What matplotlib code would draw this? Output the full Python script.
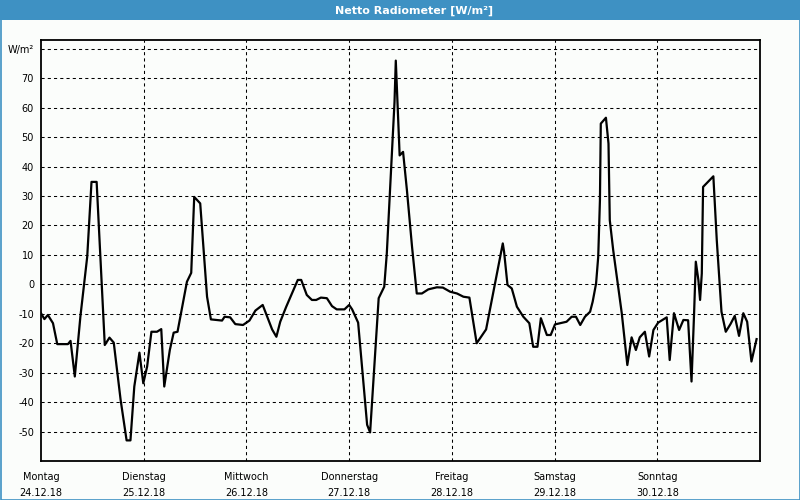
import matplotlib.pyplot as plt
from matplotlib.patches import Rectangle

# hours since Montag 24.12.18 00:00, values in W/m²
hours = [0.0, 0.8, 1.6, 2.8, 3.8, 6.3, 6.9, 7.9, 9.2, 10.8, 11.8, 13.0, 14.9, 16.0, 17.0,
         18.6, 20.0, 20.9, 21.8, 23.0, 23.9, 24.8, 25.8, 27.1, 28.1, 28.8, 30.1, 31.0, 31.9,
         34.1, 35.1, 35.8, 37.2, 38.8, 39.7, 42.3, 42.9, 44.2, 45.4, 47.2, 48.7, 50.1, 51.8,
         54.0, 55.0, 55.9, 57.3, 59.0, 60.0, 60.8, 62.1, 63.3, 64.3, 65.4, 66.8, 68.0, 69.1,
         70.9, 72.0, 72.7, 74.1, 76.2, 76.9, 78.9, 80.2, 80.8, 82.6, 82.9, 83.8, 84.6, 85.5,
         86.7, 87.8, 89.0, 90.5, 92.5, 93.9, 95.6, 97.2, 98.7, 100.1, 101.8, 104.0, 107.9,
         108.2, 109.0, 110.0, 111.2, 112.7, 114.1, 115.0, 116.0, 116.8, 118.2, 119.1, 120.1,
         122.8, 124.0, 125.0, 126.0, 127.1, 128.3, 128.9, 129.7, 130.2, 130.6, 130.8, 132.0,
         132.6, 132.9, 133.7, 135.7, 137.0, 138.0, 139.0, 139.9, 141.1, 142.1, 143.1, 144.2,
         146.2, 146.9, 147.9, 149.1, 150.1, 151.2, 152.0, 152.6, 153.0, 153.6, 154.0, 154.4,
         154.7, 157.1, 157.9, 159.0, 160.0, 161.1, 162.1, 163.1, 164.1, 165.0, 166.0, 167.2]
values = [-9.8, -11.8, -10.4, -13.2, -20.3, -20.3, -19.2, -31.3, -11.0, 9.4, 34.8, 34.8, -20.6,
          -18.1, -19.8, -39.2, -53.0, -53.0, -34.7, -23.2, -33.6, -27.9, -16.1, -16.1, -15.2,
          -34.7, -22.3, -16.4, -16.1, 0.9, 3.9, 29.7, 27.5, -4.2, -11.9, -12.3, -11.0, -11.2,
          -13.5, -13.8, -12.3, -8.9, -7.0, -15.3, -17.8, -12.7, -7.6, -1.9, 1.5, 1.5, -3.6,
          -5.3, -5.3, -4.5, -4.7, -7.4, -8.5, -8.5, -7.0, -8.5, -13.0, -47.7, -50.3, -4.7,
          -0.8, 10.5, 61.9, 76.0, 43.8, 45.0, 32.0, 12.7, -3.1, -3.1, -1.7, -1.0, -1.1, -2.5,
          -3.1, -4.2, -4.5, -20.0, -15.3, 13.9, 11.1, -0.2, -1.4, -7.6, -11.0, -13.2, -21.2,
          -21.2, -11.5, -17.2, -17.2, -13.6, -12.7, -11.0, -11.0, -13.8, -11.0, -9.3, -5.9,
          0.3, 9.4, 28.6, 54.6, 56.6, 47.8, 21.8, 11.6, -9.8, -27.4, -18.0, -22.3, -18.0,
          -16.1, -24.5, -15.5, -13.0, -11.2, -25.7, -9.8, -15.5, -12.1, -12.2, -33.0, -9.8,
          7.7, 1.5, -5.3, 3.7, 33.1, 36.7, 15.0, -9.3, -16.1, -13.5, -10.7, -17.5, -9.8,
          -12.7, -26.2, -18.6]

day_names = ['Montag', 'Dienstag', 'Mittwoch', 'Donnerstag', 'Freitag', 'Samstag', 'Sonntag']
day_dates = ['24.12.18', '25.12.18', '26.12.18', '27.12.18', '28.12.18', '29.12.18', '30.12.18']
y_ticks = [80, 70, 60, 50, 40, 30, 20, 10, 0, -10, -20, -30, -40, -50]
y_labels = ['W/m²', '70', '60', '50', '40', '30', '20', '10', '0', '-10', '-20', '-30', '-40', '-50']

bg = '#fbfdfb'
blue = '#3e91c3'
plt.rcParams['font.family'] = ['DejaVu Sans']

fig = plt.figure(figsize=(8, 5), dpi=100, facecolor=bg)

# Fensterrahmen + Titelleiste
fig.patches.append(Rectangle((0, 1 - 20 / 500), 1, 20 / 500, transform=fig.transFigure,
                             facecolor=blue, edgecolor='none', zorder=0))
fig.patches.append(Rectangle((0.5 / 800, 0.5 / 500), 799 / 800, 499 / 500, transform=fig.transFigure,
                             facecolor='none', edgecolor=blue, lw=1.2, zorder=0))
fig.text(414 / 800, 1 - 10.5 / 500, 'Netto Radiometer [W/m²]', color='white', fontsize=8,
         fontweight='bold', ha='center', va='center')

ax = fig.add_axes([41 / 800, 1 - 461 / 500, 719 / 800, 421 / 500])
ax.set_facecolor(bg)
ax.plot(hours, values, color='black', lw=1.6, zorder=3)

ax.set_xlim(0, 168)
ax.set_ylim(-60, 83)

ax.set_yticks(y_ticks)
ax.set_yticklabels(y_labels)
ax.set_xticks([24 * i for i in range(7)])
ax.set_xticklabels([f'{n}\n{d}' for n, d in zip(day_names, day_dates)], linespacing=1.7)
ax.tick_params(axis='both', length=0, labelsize=7, colors='black')
ax.tick_params(axis='y', pad=5)
ax.tick_params(axis='x', pad=8)

for y in y_ticks:
    ax.axhline(y, color='black', lw=0.75, ls=(0, (3, 3)), zorder=1)
for i in range(1, 7):
    ax.axvline(24 * i, color='black', lw=0.75, ls=(0, (3, 3)), zorder=1)

for s in ax.spines.values():
    s.set_linewidth(1.3)
    s.set_color('black')

fig.savefig('out.png', dpi=100, facecolor=bg)
